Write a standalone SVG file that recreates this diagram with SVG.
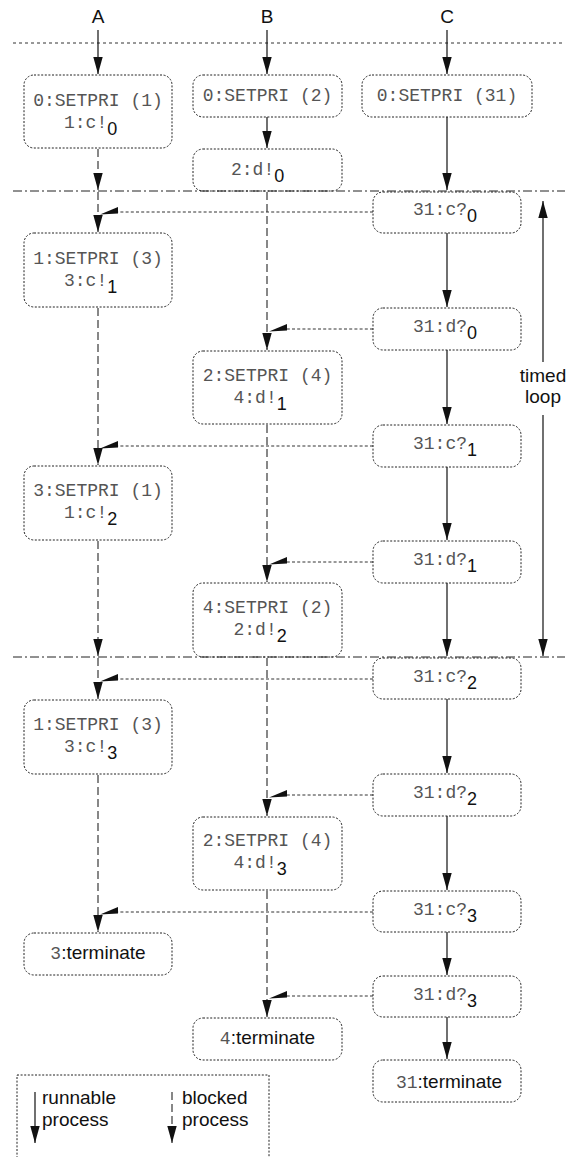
<svg xmlns="http://www.w3.org/2000/svg" width="573" height="1157" viewBox="0 0 573 1157">
  <style>
    .bg { fill: #ffffff; }
    .box { fill: none; stroke: #222; stroke-width: 1; stroke-dasharray: 2 1.6; }
    .sep { fill: none; stroke: #333; stroke-width: 1; stroke-dasharray: 3 3; }
    .sepdd { fill: none; stroke: #222; stroke-width: 1; stroke-dasharray: 9 3 2 3; }
    .run { fill: none; stroke: #111; stroke-width: 1.2; }
    .blk { fill: none; stroke: #555; stroke-width: 1.4; stroke-dasharray: 8 4; }
    .sig { fill: none; stroke: #333; stroke-width: 1; stroke-dasharray: 3 2.2; }
    .head { fill: #111; stroke: none; }
    .m { font-family: "Liberation Mono", "Courier New", monospace; font-size: 18px; fill: #555; }
    .s { font-family: "Liberation Sans", Arial, Helvetica, sans-serif; font-size: 18px; fill: #111; }
    .t { font-family: "Liberation Sans", Arial, Helvetica, sans-serif; font-size: 19px; fill: #111; }
    .lbl { font-family: "Liberation Sans", Arial, Helvetica, sans-serif; font-size: 19px; fill: #111; text-anchor: middle; }
  </style>
  <defs>
    <marker id="ah" markerUnits="userSpaceOnUse" markerWidth="17" markerHeight="10" refX="17" refY="5" orient="auto">
      <path d="M0,0.3 L17,5 L0,9.7 z" fill="#111"/>
    </marker>
    <!-- left-pointing head where a signal meets a process line -->
    <path id="sh" d="M0,2.5 L18,-5 L18,1.5 z"/>
  </defs>

  <rect class="bg" x="0" y="0" width="573" height="1157"/>

  <!-- column titles -->
  <text class="lbl" x="98" y="23">A</text>
  <text class="lbl" x="267" y="23">B</text>
  <text class="lbl" x="447" y="23">C</text>

  <!-- separators -->
  <line class="sep" x1="13" y1="43" x2="565" y2="43"/>
  <line class="sepdd" x1="13" y1="191" x2="565" y2="191"/>
  <line class="sepdd" x1="13" y1="657" x2="565" y2="657"/>

  <!-- connectors -->
  <g id="connectors">
    <!-- process A -->
    <line class="run" x1="98" y1="30" x2="98" y2="74" marker-end="url(#ah)"/>
    <line class="blk" x1="98" y1="149" x2="98" y2="190" marker-end="url(#ah)"/>
    <line class="blk" x1="98" y1="192" x2="98" y2="232" marker-end="url(#ah)"/>
    <line class="blk" x1="98" y1="308" x2="98" y2="465" marker-end="url(#ah)"/>
    <line class="blk" x1="98" y1="541" x2="98" y2="656" marker-end="url(#ah)"/>
    <line class="blk" x1="98" y1="658" x2="98" y2="699" marker-end="url(#ah)"/>
    <line class="blk" x1="98" y1="775" x2="98" y2="932" marker-end="url(#ah)"/>
    <!-- process B -->
    <line class="run" x1="267" y1="30" x2="267" y2="74" marker-end="url(#ah)"/>
    <line class="run" x1="267" y1="117" x2="267" y2="148" marker-end="url(#ah)"/>
    <line class="blk" x1="267" y1="192" x2="267" y2="350" marker-end="url(#ah)"/>
    <line class="blk" x1="267" y1="425" x2="267" y2="582" marker-end="url(#ah)"/>
    <line class="blk" x1="267" y1="658" x2="267" y2="816" marker-end="url(#ah)"/>
    <line class="blk" x1="267" y1="891" x2="267" y2="1017" marker-end="url(#ah)"/>
    <!-- process C -->
    <line class="run" x1="447" y1="30" x2="447" y2="74" marker-end="url(#ah)"/>
    <line class="run" x1="447" y1="117" x2="447" y2="190" marker-end="url(#ah)"/>
    <line class="run" x1="447" y1="233" x2="447" y2="307" marker-end="url(#ah)"/>
    <line class="run" x1="447" y1="350" x2="447" y2="424" marker-end="url(#ah)"/>
    <line class="run" x1="447" y1="467" x2="447" y2="540" marker-end="url(#ah)"/>
    <line class="run" x1="447" y1="583" x2="447" y2="656" marker-end="url(#ah)"/>
    <line class="run" x1="447" y1="699" x2="447" y2="773" marker-end="url(#ah)"/>
    <line class="run" x1="447" y1="816" x2="447" y2="890" marker-end="url(#ah)"/>
    <line class="run" x1="447" y1="932" x2="447" y2="975" marker-end="url(#ah)"/>
    <line class="run" x1="447" y1="1017" x2="447" y2="1059" marker-end="url(#ah)"/>

    <!-- channel signals from C -->
    <line class="sig" x1="373" y1="212" x2="118" y2="212"/>
    <use class="head" href="#sh" x="100" y="212"/>
    <line class="sig" x1="373" y1="329" x2="287" y2="329"/>
    <use class="head" href="#sh" x="269" y="329"/>
    <line class="sig" x1="373" y1="446" x2="118" y2="446"/>
    <use class="head" href="#sh" x="100" y="446"/>
    <line class="sig" x1="373" y1="562" x2="287" y2="562"/>
    <use class="head" href="#sh" x="269" y="562"/>
    <line class="sig" x1="373" y1="679" x2="118" y2="679"/>
    <use class="head" href="#sh" x="100" y="679"/>
    <line class="sig" x1="373" y1="795" x2="287" y2="795"/>
    <use class="head" href="#sh" x="269" y="795"/>
    <line class="sig" x1="373" y1="912" x2="118" y2="912"/>
    <use class="head" href="#sh" x="100" y="912"/>
    <line class="sig" x1="373" y1="996" x2="287" y2="996"/>
    <use class="head" href="#sh" x="269" y="996"/>

    <!-- timed loop span -->
    <line class="run" x1="543" y1="362" x2="543" y2="201" marker-end="url(#ah)"/>
    <line class="run" x1="543" y1="415" x2="543" y2="656" marker-end="url(#ah)"/>
  </g>
  <text class="t" x="543" y="382" text-anchor="middle">timed</text>
  <text class="t" x="543" y="403" text-anchor="middle">loop</text>

  <!-- process A nodes -->
  <g id="a1">
    <rect class="box" x="24" y="75" width="148" height="73" rx="10"/>
    <text class="m" x="98" y="106" text-anchor="middle">0:SETPRI (1)</text>
    <text class="m" x="64" y="128">1:c!<tspan class="s" dy="7">0</tspan></text>
  </g>
  <g id="a2">
    <rect class="box" x="24" y="233" width="148" height="74" rx="10"/>
    <text class="m" x="98" y="264" text-anchor="middle">1:SETPRI (3)</text>
    <text class="m" x="64" y="286">3:c!<tspan class="s" dy="7">1</tspan></text>
  </g>
  <g id="a3">
    <rect class="box" x="24" y="466" width="148" height="74" rx="10"/>
    <text class="m" x="98" y="496" text-anchor="middle">3:SETPRI (1)</text>
    <text class="m" x="64" y="518">1:c!<tspan class="s" dy="7">2</tspan></text>
  </g>
  <g id="a4">
    <rect class="box" x="24" y="700" width="148" height="74" rx="10"/>
    <text class="m" x="98" y="730" text-anchor="middle">1:SETPRI (3)</text>
    <text class="m" x="64" y="752">3:c!<tspan class="s" dy="7">3</tspan></text>
  </g>
  <g id="a5">
    <rect class="box" x="24" y="933" width="148" height="42" rx="10"/>
    <text class="m" x="98" y="959" text-anchor="middle">3<tspan class="t" font-size="20">:terminate</tspan></text>
  </g>

  <!-- process B nodes -->
  <g id="b1">
    <rect class="box" x="193" y="75" width="149" height="42" rx="10"/>
    <text class="m" x="267.5" y="101" text-anchor="middle">0:SETPRI (2)</text>
  </g>
  <g id="b2">
    <rect class="box" x="193" y="149" width="149" height="42" rx="10"/>
    <text class="m" x="231" y="175">2:d!<tspan class="s" dy="7">0</tspan></text>
  </g>
  <g id="b3">
    <rect class="box" x="193" y="351" width="149" height="73" rx="10"/>
    <text class="m" x="267.5" y="381" text-anchor="middle">2:SETPRI (4)</text>
    <text class="m" x="233.5" y="403">4:d!<tspan class="s" dy="7">1</tspan></text>
  </g>
  <g id="b4">
    <rect class="box" x="193" y="583" width="149" height="74" rx="10"/>
    <text class="m" x="267.5" y="613" text-anchor="middle">4:SETPRI (2)</text>
    <text class="m" x="233.5" y="635">2:d!<tspan class="s" dy="7">2</tspan></text>
  </g>
  <g id="b5">
    <rect class="box" x="193" y="817" width="149" height="73" rx="10"/>
    <text class="m" x="267.5" y="846" text-anchor="middle">2:SETPRI (4)</text>
    <text class="m" x="233.5" y="868">4:d!<tspan class="s" dy="7">3</tspan></text>
  </g>
  <g id="b6">
    <rect class="box" x="193" y="1018" width="149" height="42" rx="10"/>
    <text class="m" x="267.5" y="1044" text-anchor="middle">4<tspan class="t" font-size="20">:terminate</tspan></text>
  </g>

  <!-- process C nodes -->
  <g id="c1">
    <rect class="box" x="362" y="75" width="170" height="42" rx="10"/>
    <text class="m" x="447" y="101" text-anchor="middle">0:SETPRI (31)</text>
  </g>
  <g id="c2">
    <rect class="box" x="373" y="192" width="148" height="41" rx="10"/>
    <text class="m" x="413" y="215">31:c?<tspan class="s" dy="7">0</tspan></text>
  </g>
  <g id="c3">
    <rect class="box" x="373" y="308" width="148" height="42" rx="10"/>
    <text class="m" x="413" y="332">31:d?<tspan class="s" dy="7">0</tspan></text>
  </g>
  <g id="c4">
    <rect class="box" x="373" y="425" width="148" height="42" rx="10"/>
    <text class="m" x="413" y="449">31:c?<tspan class="s" dy="7">1</tspan></text>
  </g>
  <g id="c5">
    <rect class="box" x="373" y="541" width="148" height="42" rx="10"/>
    <text class="m" x="413" y="565">31:d?<tspan class="s" dy="7">1</tspan></text>
  </g>
  <g id="c6">
    <rect class="box" x="373" y="658" width="148" height="41" rx="10"/>
    <text class="m" x="413" y="682">31:c?<tspan class="s" dy="7">2</tspan></text>
  </g>
  <g id="c7">
    <rect class="box" x="373" y="774" width="148" height="42" rx="10"/>
    <text class="m" x="413" y="798">31:d?<tspan class="s" dy="7">2</tspan></text>
  </g>
  <g id="c8">
    <rect class="box" x="373" y="891" width="148" height="41" rx="10"/>
    <text class="m" x="413" y="915">31:c?<tspan class="s" dy="7">3</tspan></text>
  </g>
  <g id="c9">
    <rect class="box" x="373" y="976" width="148" height="41" rx="10"/>
    <text class="m" x="413" y="1000">31:d?<tspan class="s" dy="7">3</tspan></text>
  </g>
  <g id="c10">
    <rect class="box" x="373" y="1060" width="148" height="42" rx="10"/>
    <text class="m" x="449" y="1088" text-anchor="middle">31<tspan class="t" font-size="20">:terminate</tspan></text>
  </g>

  <!-- key -->
  <g id="legend">
    <rect class="box" x="17" y="1075" width="252" height="110" rx="0"/>
    <line class="run" x1="35" y1="1092" x2="35" y2="1143" marker-end="url(#ah)"/>
    <text class="t" x="42" y="1104">runnable</text>
    <text class="t" x="42" y="1126">process</text>
    <line class="blk" x1="172" y1="1092" x2="172" y2="1143" marker-end="url(#ah)"/>
    <text class="t" x="182" y="1104">blocked</text>
    <text class="t" x="182" y="1126">process</text>
  </g>
</svg>
